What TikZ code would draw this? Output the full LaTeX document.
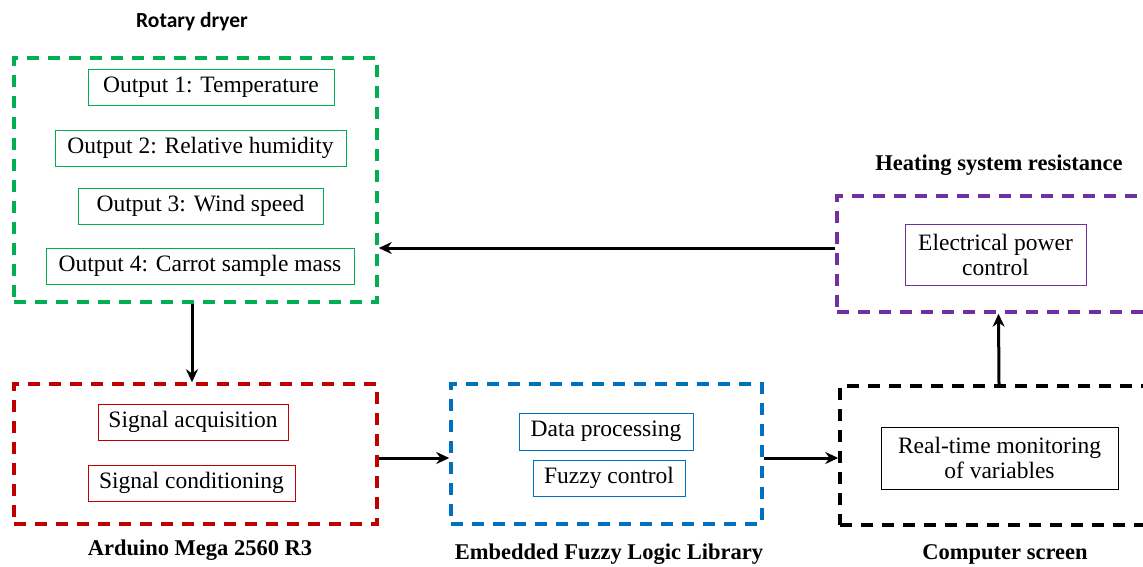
\documentclass[tikz,border=0pt]{standalone}
\usepackage{fontspec}
\setmainfont{Liberation Serif}
\newfontfamily\titlesans{Carlito}
\usetikzlibrary{arrows.meta}
\definecolor{cgreen}{HTML}{00B050}
\definecolor{cred}{HTML}{C00000}
\definecolor{cblue}{HTML}{0070C0}
\definecolor{cpurple}{HTML}{7030A0}
\begin{document}
\begin{tikzpicture}[x=1pt,y=-1pt,
  group/.style={draw, line width=3.5pt, dash pattern=on 12pt off 9pt, inner sep=0pt},
  item/.style={draw, line width=0.8pt, inner sep=0pt, align=center, text=black, font=\fontsize{23.5}{25}\selectfont},
  lab/.style={font=\fontsize{22.5}{25}\selectfont\bfseries, inner sep=0pt},
  arr/.style={line width=3pt, -{Stealth[length=13pt,width=12pt]}}]
\useasboundingbox (0,0) rectangle (1143,566);
\clip (0,0) rectangle (1143,566);
% groups
\node[group, draw=cgreen, minimum width=363pt, minimum height=244pt] (green) at (195.5,180) {};
\node[group, draw=cred, minimum width=363pt, minimum height=140pt] (red) at (195.5,454) {};
\node[group, draw=cblue, minimum width=311pt, minimum height=140pt] (blue) at (606.5,454) {};
\node[group, draw=black, minimum width=318pt, minimum height=139pt] (screen) at (999,455.5) {};
\node[group, draw=cpurple, minimum width=323pt, minimum height=116pt] (heat) at (998.5,254) {};
% titles
\node[font=\fontsize{21.5}{24}\selectfont\titlesans\bfseries, inner sep=0pt] (t1) at (192,22) {Rotary dryer};
\node[lab] (t2) at (999,165) {Heating system resistance};
\node[lab] (t3) at (200,550) {Arduino Mega 2560 R3};
\node[lab] (t4) at (609,554) {Embedded Fuzzy Logic Library};
\node[lab] (t5) at (1005,554) {Computer screen};
% items
\node[item, draw=cgreen, minimum width=246pt, minimum height=36pt] (o1) at (211,87) {Output 1: Temperature};
\node[item, draw=cgreen, minimum width=291pt, minimum height=36pt] (o2) at (200.5,148) {Output 2: Relative humidity};
\node[item, draw=cgreen, minimum width=245pt, minimum height=36pt] (o3) at (200.5,206) {Output 3: Wind speed};
\node[item, draw=cgreen, minimum width=308pt, minimum height=36pt] (o4) at (200,266) {Output 4: Carrot sample mass};
\node[item, draw=cred, minimum width=190pt, minimum height=36pt] (s1) at (193,422) {Signal acquisition};
\node[item, draw=cred, minimum width=207pt, minimum height=36pt] (s2) at (191.5,483) {Signal conditioning};
\node[item, draw=cblue, minimum width=174pt, minimum height=37pt] (d1) at (606,431.5) {Data processing};
\node[item, draw=cblue, minimum width=152pt, minimum height=36pt] (d2) at (609,478) {Fuzzy control};
\node[item, draw=black, minimum width=237pt, minimum height=62pt] (rt) at (999.5,458) {Real-time monitoring\\of variables};
\node[item, draw=cpurple, minimum width=181pt, minimum height=61pt] (ep) at (995.5,254.5) {Electrical power\\control};
% connectors
\draw[arr] ([xshift=-3.5pt]green.south) -- ([xshift=-3.5pt]red.north);
\draw[arr] ([yshift=-4pt]red.east) -- ([yshift=-4pt]blue.west);
\draw[arr] ([yshift=-4pt]blue.east) -- ([yshift=-2.5pt]screen.west);
\draw[arr] (screen.north) -- (heat.south);
\draw[arr] ([yshift=6pt]heat.west) -- ([yshift=-68pt]green.east);
\end{tikzpicture}
\end{document}
